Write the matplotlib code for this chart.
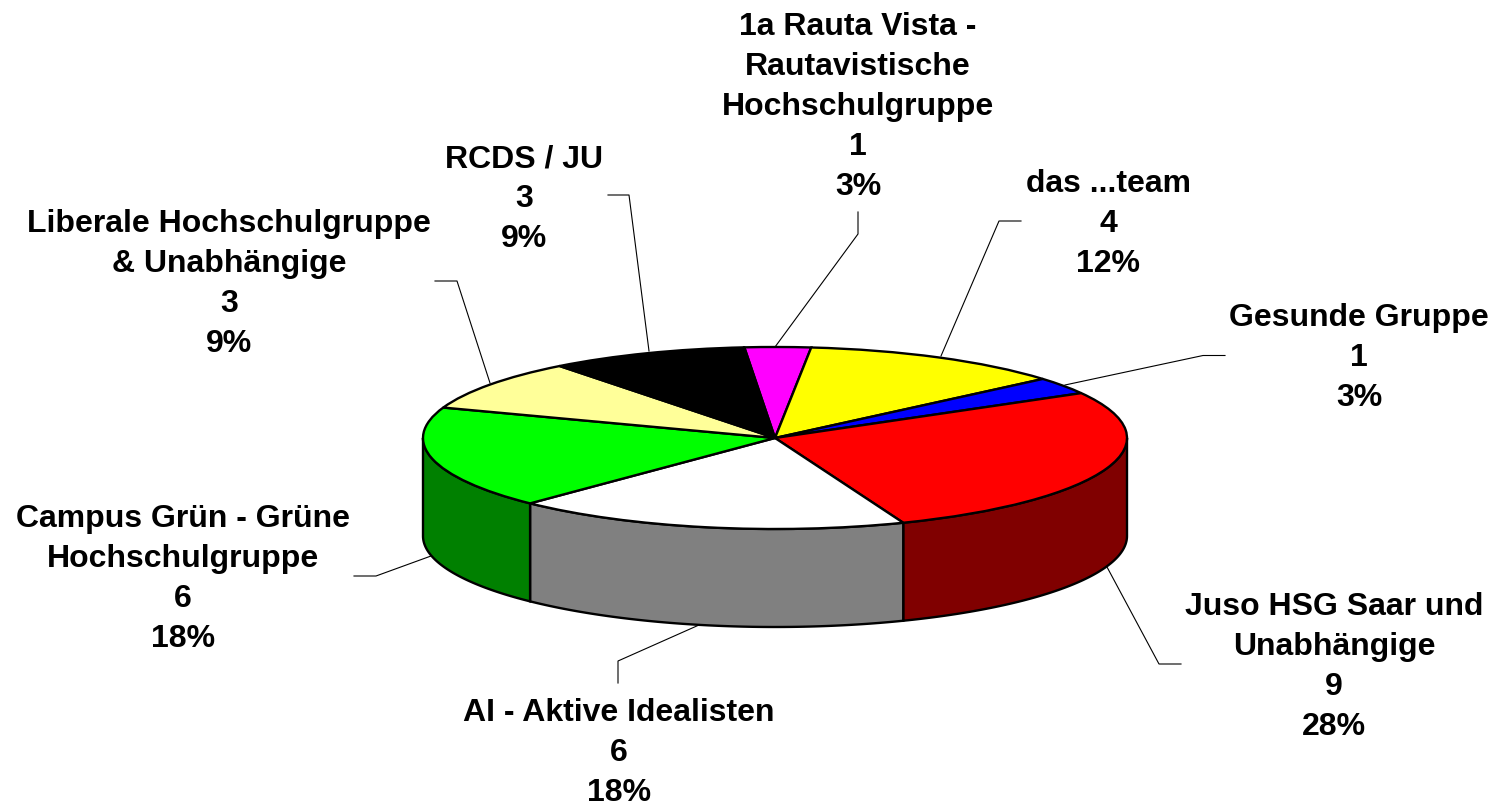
import numpy as np
import matplotlib
matplotlib.use("Agg")
import matplotlib.pyplot as plt

plt.rcParams['font.family'] = ['Liberation Sans', 'DejaVu Sans']

# slices, clockwise from the pink one
names = ["1a Rauta Vista -\nRautavistische\nHochschulgruppe", "das ...team", "Gesunde Gruppe",
         "Juso HSG Saar und\nUnabhängige", "AI - Aktive Idealisten",
         "Campus Grün - Grüne\nHochschulgruppe", "Liberale Hochschulgruppe\n& Unabhängige", "RCDS / JU"]
seats = [1, 4, 1, 9, 6, 6, 3, 3]
percent = [3, 12, 3, 28, 18, 18, 9, 9]

top_colors = ["#FF00FF", "#FFFF00", "#0000FF", "#FF0000", "#FFFFFF", "#00FF00", "#FFFF99", "#000000"]
side_colors = ["#800080", "#808000", "#000080", "#800000", "#808080", "#008000", "#808050", "#000000"]

# label centre and leader line, all in picture pixels
label_pos = [(858, 107), (1108, 224), (1359, 358), (1334, 667), (619, 753), (183, 579), (229, 284), (524, 199)]
leaders = [[(858, 212), (858, 234), (775, 347)],
           [(1021, 221), (999, 221), (941, 356)],
           [(1225, 355.5), (1203, 355.5), (1065, 385)],
           [(1181, 664), (1159, 664), (1107, 567)],
           [(618, 683), (618, 661), (699, 625)],
           [(354, 576), (376, 576), (431, 556)],
           [(435, 281), (457, 281), (490, 383)],
           [(608, 195), (629, 195), (649, 351)]]

W, H = 1497, 808
cx, cy = 775, 438
rx, ry = 352, 91
depth = 98

fig = plt.figure(figsize=(W / 100, H / 100), dpi=100)
ax = fig.add_axes([0, 0, 1, 1])

wedges, _ = ax.pie(seats, colors=top_colors, startangle=95, counterclock=False,
                   wedgeprops={"edgecolor": "black", "linewidth": 1.7})
for w in wedges:
    w.set_zorder(3)

# squash the circle into the ellipse, pie units = 1 radius
ax.set_aspect("auto")
ax.set_xlim(-cx / rx, (W - cx) / rx)
ax.set_ylim(-(H - cy) / ry, cy / ry)
ax.axis("off")

# side wall, only the front half of the ellipse shows
d = depth / ry
for w, c in zip(wedges, side_colors):
    for shift in (-360, 0, 360):
        lo = max(w.theta1, 180 + shift)
        hi = min(w.theta2, 360 + shift)
        if hi <= lo:
            continue
        t = np.radians(np.linspace(lo, hi, 80))
        xs = np.cos(t)
        ys = np.sin(t)
        ax.fill(np.r_[xs, xs[::-1]], np.r_[ys, ys[::-1] - d], facecolor=c, edgecolor="black",
                linewidth=1.7, zorder=2)

# overlay in pixels for labels and leaders
ov = fig.add_axes([0, 0, 1, 1])
ov.set_xlim(0, W)
ov.set_ylim(H, 0)
ov.axis("off")

for line in leaders:
    ov.plot([p[0] for p in line], [p[1] for p in line], color="black", linewidth=0.8)

for name, n, p, pos in zip(names, seats, percent, label_pos):
    ov.text(pos[0], pos[1], "%s\n%d\n%d%%" % (name, n, p), ha="center", va="center",
            fontsize=23, fontweight="bold", linespacing=1.43, color="black")

fig.savefig("out.png", dpi=100)
